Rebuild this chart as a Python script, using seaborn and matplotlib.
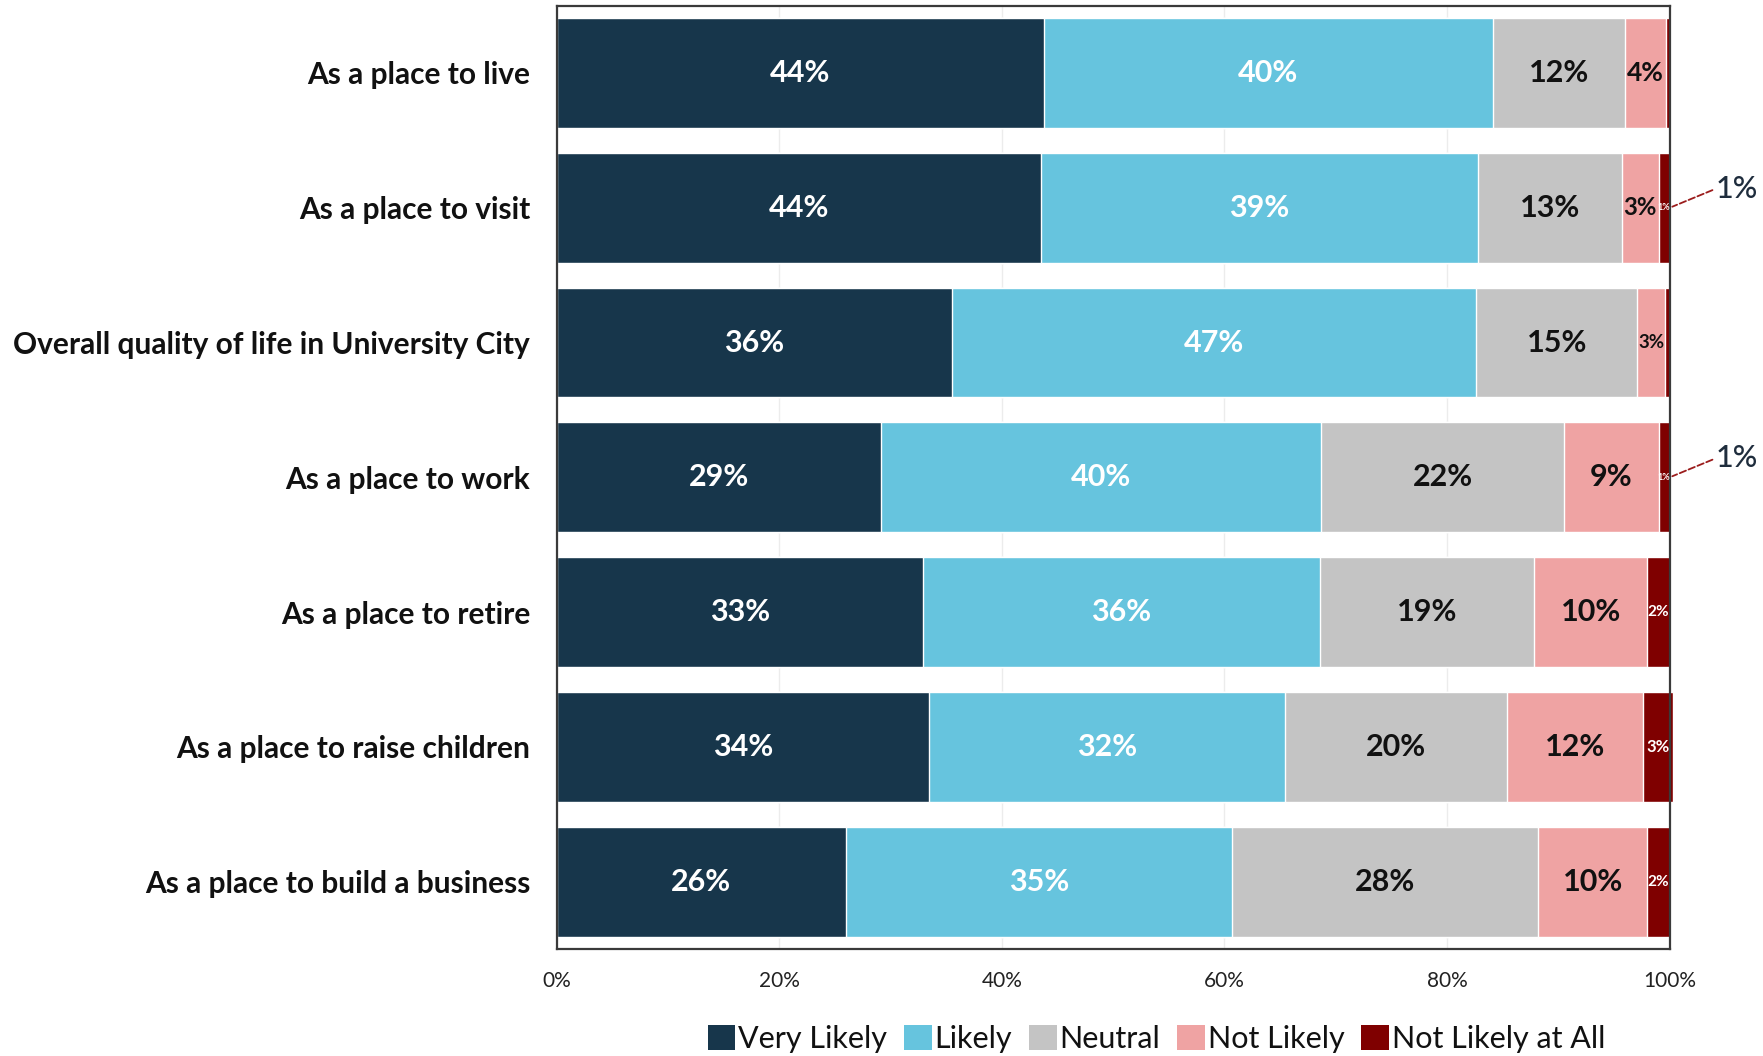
import matplotlib
matplotlib.use("Agg")
import matplotlib.pyplot as plt
from matplotlib.patches import Patch
import seaborn as sns
import pandas as pd
import numpy as np

categories = [
    "As a place to live",
    "As a place to visit",
    "Overall quality of life in University City",
    "As a place to work",
    "As a place to retire",
    "As a place to raise children",
    "As a place to build a business",
]
series_names = ["Very Likely", "Likely", "Neutral", "Not Likely", "Not Likely at All"]
very_likely = [43.8, 43.5, 35.5, 29.1, 32.9, 33.5, 26.0]
likely = [40.3, 39.3, 47.1, 39.6, 35.7, 31.9, 34.7]
neutral = [11.9, 12.9, 14.5, 21.8, 19.2, 20.0, 27.5]
not_likely = [3.7, 3.3, 2.5, 8.5, 10.2, 12.2, 9.8]
not_at_all = [0.3, 1.0, 0.4, 1.0, 2.0, 2.7, 2.0]
x_ticks = [0, 20, 40, 60, 80, 100]
x_tick_labels = ["0%", "20%", "40%", "60%", "80%", "100%"]

colors = ["#17364B", "#66C4DE", "#C4C4C4", "#EFA3A3", "#7F0000"]
label_colors = ["white", "white", "#111111", "#111111", "white"]

sns.set_theme(style="white")
plt.rcParams["font.family"] = ["Lato", "DejaVu Sans"]

fig = plt.figure(figsize=(17.63, 10.56), dpi=100)
ax = fig.add_axes([0.3157, 0.1013, 0.6314, 0.8934])

values = np.array([very_likely, likely, neutral, not_likely, not_at_all])
cum = np.cumsum(values, axis=0)
df = pd.DataFrame({"category": categories})
for i in range(len(series_names) - 1, -1, -1):
    df["cum"] = cum[i]
    sns.barplot(data=df, x="cum", y="category", orient="h", color=colors[i],
                saturation=1, width=0.815, ax=ax, clip_on=False, zorder=2)

ax.set_xlim(0, 100)
ax.set_ylim(6.5, -0.5)
ax.set_xticks(x_ticks)
ax.set_xticklabels(x_tick_labels)
ax.set_xlabel("")
ax.set_ylabel("")
ax.tick_params(axis="x", length=0, pad=16, labelsize=15, labelcolor="#222222")
ax.tick_params(axis="y", length=0, pad=19, labelsize=21.5, labelcolor="#111111")
for lab in ax.get_yticklabels():
    lab.set_fontweight("bold")
ax.grid(axis="x", color="#ECECEC", lw=1)
ax.set_axisbelow(True)
for sp in ax.spines.values():
    sp.set_visible(True)
    sp.set_color("#3A3A3A")
    sp.set_linewidth(1.6)


def label_size(i, w):
    if i < 3 or w >= 5:
        return 22
    if i == 3:
        return min(22, 2 + 4.6 * w)
    return min(12, 2 + 4.5 * w)


for i in range(len(series_names)):
    for j in range(len(categories)):
        v = values[i][j]
        pct = int(v + 0.5)
        if pct < 1:
            continue
        xc = cum[i][j] - v / 2
        ax.text(xc, j, f"{pct}%", ha="center", va="center",
                fontsize=label_size(i, v), fontweight="bold",
                color=label_colors[i], zorder=5, clip_on=False)

# callouts for the tiny 1% segments
for j in range(len(categories)):
    v = not_at_all[j]
    if 0.5 <= v < 1.5:
        ax.annotate(f"{int(v + 0.5)}%", xy=(cum[4][j], j), xytext=(46, 19),
                    textcoords="offset pixels", ha="left", va="center",
                    fontsize=22, fontweight="medium", color="#1F2D3D",
                    annotation_clip=False,
                    arrowprops=dict(arrowstyle="-", color="#9B1C1C", linestyle="--",
                                    lw=1.3, shrinkA=0, shrinkB=2, relpos=(0, 0.5)))

handles = [Patch(facecolor=c, edgecolor="none") for c in colors]
fig.legend(handles, series_names, loc="center", bbox_to_anchor=(0.656, 0.016),
           ncol=5, frameon=False, fontsize=22, handlelength=0.9, handleheight=0.9,
           handletextpad=0.1, columnspacing=0.55, labelcolor="#111111")

fig.savefig("out.png", dpi=100)
